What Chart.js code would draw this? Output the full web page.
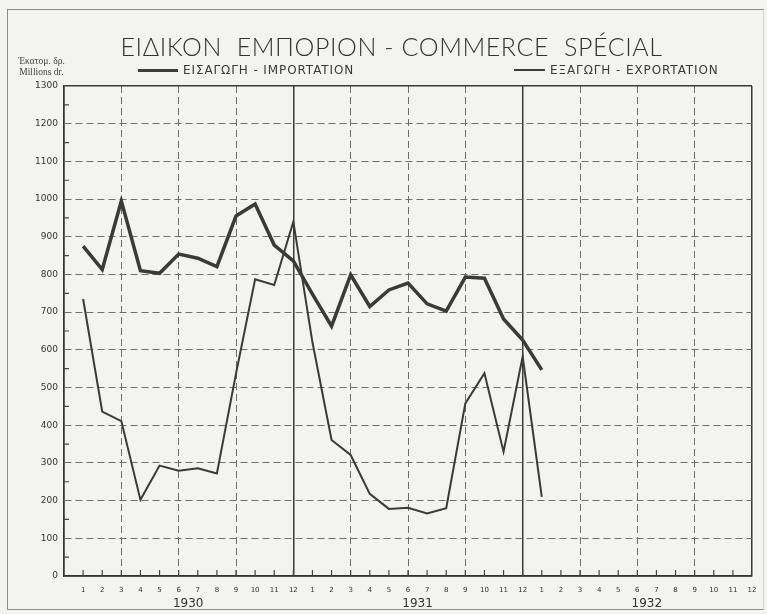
<!DOCTYPE html>
<html lang="el">
<head>
  <meta charset="UTF-8" />
  <title>Ειδικόν εμπόριον - Commerce spécial</title>
  <script src="https://cdn.jsdelivr.net/npm/chart.js@4.4.1/dist/chart.umd.min.js"></script>
  <style>
    *{margin:0;padding:0;box-sizing:border-box}
    body{background:#f3f3f1;width:767px;height:614px;overflow:hidden;font-family:"DejaVu Sans",sans-serif;color:#333}
    .wrap{position:relative;width:767px;height:614px}
    .frame{position:absolute;left:7px;top:9px;width:757px;height:601px;border:1px solid #8a8a8a;border-right-color:#d5d5d3}
    canvas{position:absolute;left:0;top:0}
    .title{position:absolute;left:0;width:767px;top:31px;text-align:center;padding-left:16px;font-family:"Lato",sans-serif;font-weight:300;font-size:25px;letter-spacing:0.6px;white-space:pre;color:#333}
    .unit{position:absolute;left:18px;top:56px;font-family:"Liberation Serif",serif;font-size:9.5px;line-height:11px;color:#444;text-align:center}
    .leg{position:absolute;top:63px;font-size:12px;letter-spacing:0.9px;white-space:nowrap;color:#3a3a3a;display:flex;align-items:center}
    .leg i{display:inline-block;width:40px;background:#3d3d3d;margin-right:5px}
    .year{position:absolute;top:596px;width:60px;margin-left:-30px;text-align:center;font-size:12px;color:#333}
  </style>
</head>
<body>
<div class="wrap">
  <div class="frame"></div>
  <canvas id="chart" width="767" height="614"></canvas>
  <div class="title">ΕΙΔΙΚΟΝ  ΕΜΠΟΡΙΟΝ - COMMERCE  SPÉCIAL</div>
  <div class="unit">Ἑκατομ. δρ.<br>Millions dr.</div>
  <div class="leg" style="left:138px"><i style="height:3px"></i>ΕΙΣΑΓΩΓΗ - IMPORTATION</div>
  <div class="leg" style="left:514px"><i style="height:2px;width:31px"></i>ΕΞΑΓΩΓΗ - EXPORTATION</div>
  <div id="years"></div>
</div>
<script>
  // month labels on the x axis, repeated for each year
  const monthLabels = ['1','2','3','4','5','6','7','8','9','10','11','12'];
  const years = ['1930','1931','1932'];
  // millions of drachmas, Jan 1930 .. Jan 1932
  const importation = [875, 813, 995, 810, 803, 854, 843, 821, 955, 987, 878, 836,
                       748, 663, 799, 715, 759, 777, 722, 703, 793, 790, 682, 626,
                       547];
  const exportation = [735, 436, 411, 202, 293, 279, 286, 272, 537, 787, 772, 940,
                       620, 361, 321, 218, 178, 181, 166, 180, 458, 538, 330, 582,
                       210];

  const totalMonths = years.length * monthLabels.length;
  const ink = '#3a3a3a';

  // small tick marks drawn inside the plot, like the printed chart
  const innerTicks = {
    id: 'innerTicks',
    beforeDatasetsDraw(chart) {
      const {ctx, scales: {x, y}, chartArea: a} = chart;
      ctx.save();
      ctx.strokeStyle = '#444';
      ctx.lineWidth = 1.2;
      ctx.beginPath();
      for (let m = 1; m < totalMonths; m++) {
        const px = x.getPixelForValue(m);
        ctx.moveTo(px, a.bottom);
        ctx.lineTo(px, a.bottom - 6);
      }
      for (let v = 50; v < 1300; v += 100) {
        const py = y.getPixelForValue(v);
        ctx.moveTo(a.left, py);
        ctx.lineTo(a.left + 5, py);
      }
      ctx.stroke();
      ctx.restore();
    },
    afterRender(chart) {
      const x = chart.scales.x, box = document.getElementById('years');
      box.innerHTML = '';
      years.forEach((yr, k) => {
        const d = document.createElement('div');
        d.className = 'year';
        d.style.left = x.getPixelForValue(k * 12 + 6.5) + 'px';
        d.textContent = yr;
        box.appendChild(d);
      });
    }
  };

  const pts = arr => arr.map((v, i) => ({x: i + 1, y: v}));

  new Chart(document.getElementById('chart'), {
    type: 'line',
    data: {
      datasets: [
        {label: 'ΕΙΣΑΓΩΓΗ - IMPORTATION', data: pts(importation), borderColor: ink, borderWidth: 3.5, pointRadius: 0, tension: 0},
        {label: 'ΕΞΑΓΩΓΗ - EXPORTATION', data: pts(exportation), borderColor: ink, borderWidth: 2, pointRadius: 0, tension: 0}
      ]
    },
    options: {
      responsive: false,
      animation: false,
      devicePixelRatio: 1,
      layout: {padding: {top: 86, right: 15, left: 0, bottom: 0}},
      plugins: {legend: {display: false}, tooltip: {enabled: false}},
      scales: {
        x: {
          type: 'linear', min: 0, max: totalMonths,
          afterFit: s => { s.height = 38; },
          ticks: {
            stepSize: 1, autoSkip: false, maxRotation: 0, padding: 10,
            color: '#333', font: {size: 7, family: 'DejaVu Sans'},
            callback: v => v === 0 ? '' : monthLabels[(v - 1) % 12]
          },
          grid: {
            drawTicks: false,
            color: c => c.tick.value % 12 === 0 ? '#3a3a3a' : (c.tick.value % 3 === 0 ? '#6e6e6e' : 'rgba(0,0,0,0)'),
            lineWidth: c => c.tick.value % 12 === 0 ? 1.5 : 1
          },
          border: {color: '#333', width: 1.5, dash: c => (c.tick && c.tick.value % 12 !== 0) ? [7, 4] : []}
        },
        y: {
          min: 0, max: 1300,
          afterFit: s => { s.width = 64; },
          ticks: {
            stepSize: 50, autoSkip: false, padding: 6,
            color: '#333', font: {size: 9, family: 'DejaVu Sans'},
            callback: v => v % 100 === 0 ? v : ''
          },
          grid: {
            drawTicks: false,
            color: c => c.tick.value === 1300 ? '#3a3a3a' : (c.tick.value % 100 === 0 ? '#6e6e6e' : 'rgba(0,0,0,0)'),
            lineWidth: c => c.tick.value === 1300 ? 1.5 : 1
          },
          border: {color: '#333', width: 1.5, dash: c => (c.tick && c.tick.value % 100 === 0 && c.tick.value !== 1300 && c.tick.value !== 0) ? [7, 4] : []}
        }
      }
    },
    plugins: [innerTicks]
  });
</script>
</body>
</html>
